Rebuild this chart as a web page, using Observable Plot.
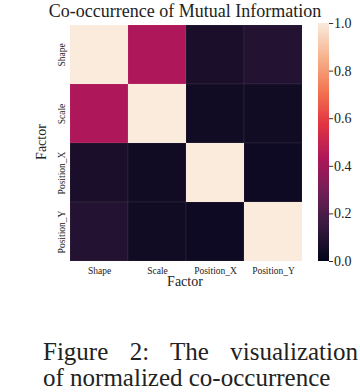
<!DOCTYPE html>
<html>
<head>
<meta charset="utf-8">
<script src="https://cdn.jsdelivr.net/npm/d3@7"></script>
<script src="https://cdn.jsdelivr.net/npm/@observablehq/plot@0.6"></script>
<style>
  html, body { margin: 0; padding: 0; background: #fff; }
  #root { position: relative; width: 360px; height: 392px; overflow: hidden; background: #fff;
          font-family: 'Liberation Serif', serif; color: #222; }
  .abs { position: absolute; white-space: nowrap; }
  svg text { font-family: 'Liberation Serif', serif; }
</style>
</head>
<body>
<div id="root"></div>
<script>
// ---- data ----
const factors = ["Shape", "Scale", "Position_X", "Position_Y"];
const rowShape = [1.00, 0.43, 0.065, 0.09];
const rowScale = [0.43, 1.00, 0.04, 0.04];
const rowPosX  = [0.065, 0.04, 1.00, 0.035];
const rowPosY  = [0.09, 0.04, 0.035, 1.00];
const rows = [rowShape, rowScale, rowPosX, rowPosY];
const colorTicks = [0, 0.2, 0.4, 0.6, 0.8, 1.0];
const titleText = "Co-occurrence of Mutual Information";
const axisLabel = "Factor";
const captionLines = ["Figure 2:  The visualization", "of normalized co-occurrence"];

// rocket colormap stops
const rocketDomain = [0, 1/7, 2/7, 3/7, 4/7, 5/7, 6/7, 1];
const rocketRange = ["#03051a", "#35193e", "#701f57", "#ad1759", "#e13342", "#f37651", "#f6b48f", "#faebdd"];

const cells = [];
rows.forEach((r, i) => r.forEach((v, j) => cells.push({row: factors[i], col: factors[j], value: v})));

const root = document.getElementById("root");
const colorOpts = {type: "linear", domain: rocketDomain, range: rocketRange, interpolate: "rgb"};
const serif = "'Liberation Serif', serif";

// ---- heatmap ----
const heat = Plot.plot({
  width: 310, height: 300,
  marginLeft: 68, marginRight: 7, marginTop: 23, marginBottom: 38,
  style: {fontFamily: serif, fontSize: "9.5px", color: "#222", background: "transparent"},
  x: {domain: factors, padding: 0, label: null},
  y: {domain: factors, padding: 0, label: null},
  color: colorOpts,
  marks: [
    Plot.cell(cells, {x: "col", y: "row", fill: "value", stroke: "#ffffff", strokeOpacity: 0.08, strokeWidth: 0.8, inset: 0}),
    Plot.axisX({tickSize: 0, tickPadding: 5, fontSize: 9.5, label: null}),
    Plot.axisY({tickSize: 0, tickPadding: 4, tickRotate: -90, fontSize: 9.5, label: null})
  ]
});
heat.style.position = "absolute"; heat.style.left = "0px"; heat.style.top = "0px";
root.appendChild(heat);

// ---- colorbar ----
const steps = d3.range(0, 1, 0.004).map(v => ({v0: v, v1: Math.min(1, v + 0.006)}));
const bar = Plot.plot({
  width: 50, height: 300,
  marginLeft: 2, marginRight: 37, marginTop: 23, marginBottom: 39,
  style: {fontFamily: serif, fontSize: "14px", color: "#222", background: "transparent"},
  x: {domain: [0, 1], axis: null},
  y: {domain: [0, 1], axis: null},
  color: colorOpts,
  marks: [
    Plot.rect(steps, {x1: 0, x2: 1, y1: "v0", y2: "v1", fill: "v0", shapeRendering: "crispEdges"}),
    Plot.ruleY(colorTicks, {x1: 1, x2: 1.38, stroke: "#333", strokeWidth: 1}),
    Plot.text(colorTicks, {x: 1.42, y: d => d, text: d => d3.format(".1f")(d), textAnchor: "start", fontSize: 14, fill: "#222"})
  ]
});
bar.style.position = "absolute"; bar.style.left = "316px"; bar.style.top = "0px";
root.appendChild(bar);

// ---- texts ----
function addText(txt, css) {
  const d = document.createElement("div");
  d.className = "abs";
  d.textContent = txt;
  Object.assign(d.style, css);
  root.appendChild(d);
  return d;
}
addText(titleText, {left: "0px", width: "370px", textAlign: "center", top: "0px", fontSize: "18px", lineHeight: "22px"});
addText(axisLabel, {left: "135px", width: "100px", textAlign: "center", top: "274px", fontSize: "14px", lineHeight: "16px"});
addText(axisLabel, {left: "-8px", width: "100px", textAlign: "center", top: "134px", fontSize: "14px", lineHeight: "16px", transform: "rotate(-90deg)"});
addText(captionLines[0], {left: "43px", width: "315px", top: "339px", fontSize: "25px", lineHeight: "26px", whiteSpace: "normal", textAlign: "justify", textAlignLast: "justify"});
addText(captionLines[1], {left: "43px", top: "365px", fontSize: "25px", lineHeight: "26px"});
</script>
</body>
</html>
